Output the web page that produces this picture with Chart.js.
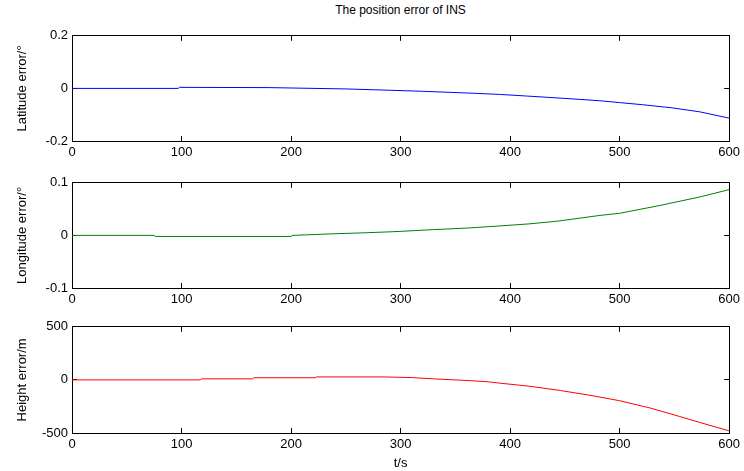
<!DOCTYPE html>
<html>
<head>
<meta charset="utf-8">
<script src="https://cdn.jsdelivr.net/npm/chart.js@4.4.0/dist/chart.umd.min.js"></script>
<style>
  html, body { margin: 0; padding: 0; background: #fff; overflow: hidden; }
  body { width: 744px; height: 471px; position: relative; font-family: "Liberation Sans", Arial, sans-serif; }
  .box { position: absolute; left: 0; width: 749px; }
  #title { position: absolute; top: 3px; left: 0; width: 801px; text-align: center; font-size: 12px; color: #000; }
</style>
</head>
<body>
<div id="title">The position error of INS</div>
<div class="box" style="top:19px;height:147px"><canvas id="lat"></canvas></div>
<div class="box" style="top:166px;height:147px"><canvas id="lon"></canvas></div>
<div class="box" style="top:310px;height:161px"><canvas id="hgt"></canvas></div>
<script>
// time axis
const xTicks = [0, 100, 200, 300, 400, 500, 600]

// latitude error, deg
const latTime = [0, 97, 98, 180, 250, 290, 320, 345, 370, 391, 415, 450, 482, 500, 521, 548, 573, 600]
const latErr = [0, 0, 0.004, 0.003, -0.002, -0.007, -0.011, -0.015, -0.019, -0.023, -0.029, -0.038, -0.047, -0.054, -0.062, -0.074, -0.089, -0.113]
const latTicks = [-0.2, 0, 0.2]

// longitude error, deg
const lonTime = [0, 75, 76, 200, 201, 238, 268, 293, 312, 330, 361, 391, 418, 443, 482, 500, 537, 573, 600]
const lonErr = [0, 0, -0.002, -0.002, 0, 0.003, 0.005, 0.007, 0.009, 0.011, 0.014, 0.018, 0.022, 0.027, 0.038, 0.042, 0.057, 0.073, 0.087]
const lonTicks = [-0.1, 0, 0.1]

// height error, m
const hgtTime = [0, 117, 118, 165, 166, 222, 223, 285, 310, 330, 350, 365, 380, 391, 418, 446, 473, 500, 528, 555, 573, 600]
const hgtErr = [0, 0, 10, 10, 20, 20, 28, 28, 22, 10, 0, -8, -18, -31, -60, -100, -145, -196, -265, -345, -400, -480]
const hgtTicks = [-500, 0, 500]

const FONT = "'Liberation Sans', Arial, sans-serif"

// axis with inward tick marks (negative tickLength) and a black border line
function axis(position, tickValues, extra) {
  return {
    type: "linear",
    position: position,
    min: tickValues[0],
    max: tickValues[tickValues.length - 1],
    afterBuildTicks: s => { s.ticks = tickValues.map(v => ({ value: v })) },
    grid: { drawOnChartArea: false, drawTicks: true, tickLength: -5, color: "#000", lineWidth: 1 },
    border: { display: true, color: "#000", width: 1 },
    ...extra,
  }
}

function makeChart(id, time, values, color, yTicks, yTitle, xTitle, xHeight) {
  const points = time.map((t, i) => ({ x: t, y: values[i] }))
  const hidden = { display: false }
  return new Chart(document.getElementById(id), {
    type: "line",
    data: {
      datasets: [{
        data: points,
        borderColor: color,
        borderWidth: 1,
        pointRadius: 0,
        tension: 0,
        fill: false,
        xAxisID: "x",
        yAxisID: "y",
      }]
    },
    options: {
      responsive: true,
      maintainAspectRatio: false,
      animation: false,
      events: [],
      layout: { padding: { left: 0, right: 10, top: 8, bottom: 0 } },
      plugins: { legend: { display: false }, tooltip: { enabled: false } },
      scales: {
        x: axis("bottom", xTicks, {
          afterFit: s => { s.height = xHeight },
          ticks: { color: "#000", padding: 9, maxRotation: 0, font: { family: FONT, size: 13 } },
          title: {
            display: !!xTitle,
            text: xTitle,
            color: "#000",
            padding: { top: 0, bottom: 0 },
            font: { family: FONT, size: 13 },
          },
        }),
        x2: axis("top", xTicks, {
          afterFit: s => { s.height = 0 },
          ticks: hidden,
        }),
        y: axis("left", yTicks, {
          afterFit: s => { s.width = 72 },
          ticks: {
            color: "#000",
            padding: 9,
            font: { family: FONT, size: 13 },
            callback: v => String(v),
          },
          title: {
            display: true,
            text: yTitle,
            color: "#000",
            padding: { top: 15, bottom: 0 },
            font: { family: FONT, size: 13 },
          },
        }),
        y2: axis("right", yTicks, {
          afterFit: s => { s.width = 0 },
          ticks: hidden,
        }),
      },
    },
  })
}

makeChart("lat", latTime, latErr, "#0000ff", latTicks, "Latitude error/°", "", 25)
makeChart("lon", lonTime, lonErr, "#008000", lonTicks, "Longitude error/°", "", 25)
makeChart("hgt", hgtTime, hgtErr, "#ff0000", hgtTicks, "Height error/m", "t/s", 38)
</script>
</body>
</html>
